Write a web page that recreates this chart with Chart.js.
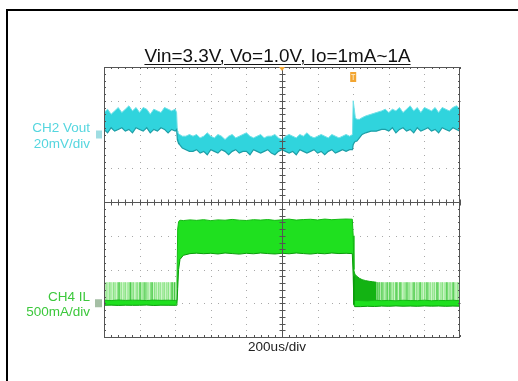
<!DOCTYPE html>
<html>
<head>
<meta charset="utf-8">
<script src="https://cdn.jsdelivr.net/npm/chart.js@4/dist/chart.umd.min.js"></script>
<style>
  html, body { margin: 0; padding: 0; background: #fff; overflow: hidden; }
  #wrap { position: relative; width: 518px; height: 381px; overflow: hidden; background: #fff;
          font-family: "Liberation Sans", Arial, sans-serif; }
  #scope { position: absolute; left: 0; top: 0; }
  .frame-top { position: absolute; left: 6px; top: 9px; width: 512px; height: 2px; background: #000; }
  .frame-left { position: absolute; left: 6px; top: 9px; width: 2px; height: 372px; background: #000; }
  #title { position: absolute; left: 0; width: 555px; text-align: center; top: 46.5px;
           font-size: 18.9px; line-height: 18.9px; color: #111;
           text-decoration: underline; text-decoration-thickness: 1px; text-underline-offset: 2px; }
  .lbl { position: absolute; right: 428px; text-align: right; font-size: 13.5px; white-space: nowrap; }
  .ch2 { top: 119.5px; line-height: 16px; color: #55d6df; }
  .ch4 { top: 289px; line-height: 15px; color: #3cc83c; }
  #xlab { position: absolute; left: 0; width: 554px; text-align: center; top: 339px;
          font-size: 13.5px; line-height: 16px; color: #222; }
</style>
</head>
<body>
<div id="wrap">
  <div class="frame-top"></div>
  <div class="frame-left"></div>
  <canvas id="scope" width="518" height="381"></canvas>
  <div id="title">Vin=3.3V, Vo=1.0V, Io=1mA~1A</div>
  <div class="lbl ch2">CH2 Vout<br>20mV/div</div>
  <div class="lbl ch4">CH4 IL<br>500mA/div</div>
  <div id="xlab">200us/div</div>
</div>
<script>
// Time base: 200us/div, 10 divisions
const timeMin = 0;
const timeMax = 2000;
const timeDiv = 200;

// CH2 Vout (mV, relative to channel marker), 20mV/div
const voutTime = [0, 20, 40, 60, 80, 100, 120, 140, 160, 180, 200, 220, 240, 260, 280, 300, 320, 340, 360, 380, 400, 408,
    412, 415, 425, 440, 460, 480,
    500, 520, 540, 560, 580, 600, 620, 640, 660, 680, 700, 720, 740, 760, 780, 800, 820, 840, 860, 880, 900, 920,
    940, 960, 980, 1000, 1020, 1040, 1060, 1080, 1100, 1120, 1140, 1160, 1180, 1200, 1220, 1240, 1260, 1280, 1300,
    1320, 1340, 1360, 1380, 1396,
    1400, 1405, 1412, 1420, 1435, 1450, 1470, 1500, 1530, 1560,
    1580, 1600, 1620, 1640, 1660, 1680, 1700, 1720, 1740, 1760, 1780, 1800, 1820, 1840, 1860, 1880, 1900, 1920,
    1940, 1960, 1980, 2000];
const voutTop = [13, 15, 12, 14, 16, 13, 15, 17, 14, 16, 13, 16, 15, 12, 15, 14, 13, 16, 15, 14, 15, 13,
    2, 1, 0, -1, -1, 0,
    -1, 0, -2, -1, 1, -1, -2, 0, -1, -3, -1, 0, -2, -1, 0, 1, -1, -2, -1, 0, -2, -1,
    -1, 0, -2, -3, -1, 0, -1, -2, 0, -1, 1, -1, -2, -1, 0, -1, -2, 0, -1,
    -2, -1, 0, -1, 0,
    20, 16, 10, 9, 9, 10, 11, 12, 13, 14,
    15, 13, 15, 14, 16, 13, 15, 17, 14, 16, 13, 16, 15, 14, 16, 13, 16, 15,
    14, 16, 17, 15];
const voutBottom = [3, 1, 4, 2, 3, 4, 2, 3, 1, 4, 3, 2, 4, 1, 3, 2, 4, 3, 1, 3, 2, 3,
    -3, -4, -6, -8, -9, -10,
    -10, -9, -11, -10, -12, -9, -10, -11, -9, -10, -12, -10, -9, -11, -10, -10, -12, -9, -10, -11, -10, -9,
    -11, -12, -10, -9, -10, -11, -10, -12, -9, -10, -11, -10, -9, -11, -10, -12, -10, -9, -11,
    -10, -9, -10, -9, -9,
    -6, -5, -4, -4, -2, 0, 1, 2, 2, 3,
    3, 2, 4, 1, 3, 4, 2, 3, 1, 4, 2, 3, 4, 2, 3, 1, 4, 3,
    2, 4, 3, 2];

// CH4 IL (mA), 500mA/div
const ilTime = [0, 40, 80, 120, 160, 200, 240, 280, 320, 360, 400, 405,
    410, 414, 419, 427, 446, 483,
    520, 560, 600, 640, 680, 720, 760, 800, 840, 880, 920, 960, 1000, 1040, 1080, 1120, 1160, 1200, 1240, 1280, 1320, 1360, 1395,
    1400, 1404, 1408,
    1440, 1480, 1520, 1560, 1600, 1640, 1680, 1720, 1760, 1800, 1840, 1880, 1920, 1960, 2000];
const ilTop = [45, 40, 48, 42, 46, 44, 40, 47, 43, 45, 41, 44,
    300, 1100, 1210, 1230, 1225, 1235,
    1228, 1238, 1224, 1235, 1230, 1242, 1231, 1226, 1238, 1232, 1240, 1228, 1236, 1246, 1232, 1240, 1244, 1234, 1247, 1238, 1244, 1248, 1245,
    1000, 500, 45,
    40, 35, 45, 38, 42, 36, 44, 40, 38, 45, 37, 42, 40, 44, 38];
const ilBottom = [-30, -28, -32, -29, -31, -30, -27, -33, -29, -30, -31, -30,
    0, 220, 500, 650, 710, 735,
    742, 734, 740, 730, 744, 736, 728, 740, 733, 744, 736, 730, 740, 733, 744, 736, 729, 740, 733, 744, 736, 740, 735,
    400, -20, -50,
    -50, -45, -48, -42, -45, -40, -44, -42, -45, -40, -43, -41, -45, -42, -44];

// light-load pulse area (persistence) and decaying region after unload
const paleTime = [0, 405, 406, 1525, 2000];
const paleTop = [311, 311, null, 311, 311];
const decayTime = [1403, 1410, 1420, 1435, 1450, 1470, 1490, 1510, 1530];
const decayTop = [480, 430, 400, 370, 350, 335, 325, 318, 311];
const pulseHeight = 311;
const paleSpikes = [5, 16, 30, 39, 53, 62, 77, 88, 97, 112, 120, 135, 143, 158, 166, 181, 189, 204, 214, 223, 238, 247, 261, 270,
    284, 293, 307, 316, 331, 339, 353, 362, 376, 385, 399,
    1536, 1548, 1557, 1571, 1580, 1594, 1603, 1617, 1626, 1640, 1649, 1663, 1672, 1686, 1695, 1709, 1718, 1732, 1741, 1755,
    1764, 1778, 1787, 1801, 1810, 1824, 1833, 1847, 1856, 1870, 1879, 1893, 1902, 1916, 1925, 1939, 1948, 1962, 1971, 1985, 1994];
const darkSpikes = [84, 150, 202, 230, 270, 382, 395,
    1534, 1545, 1562, 1590, 1607, 1641, 1663, 1702, 1742, 1775, 1815, 1871, 1927, 1961];

const triggerTime = 1400;

function toPoints(xs, ys) {
    return xs.map((x, i) => ({ x: x, y: ys[i] }));
}

function spikePoints(times, h) {
    return times.flatMap(t => [{ x: t, y: 0 }, { x: t, y: h }, { x: t, y: null }]);
}

// graticule: dotted grid behind traces, center cross + border on top
const graticule = {
    id: 'graticule',
    beforeDatasetsDraw(chart) {
        const { ctx, scales } = chart;
        const xs = scales.x, ys = scales.yV;
        ctx.save();
        ctx.fillStyle = '#a8a8a8';
        for (let d = 1; d < 10; d++) {
            if (d === 5) continue;
            const x = Math.round(xs.getPixelForValue(d * timeDiv));
            for (let m = 0; m <= 40; m++) {
                const y = Math.round(ys.getPixelForValue(-120 + m * 4));
                ctx.fillRect(x, y, 1, 1);
            }
        }
        for (let d = 1; d < 8; d++) {
            if (d === 6) continue;
            const y = Math.round(ys.getPixelForValue(-120 + d * 20));
            for (let m = 0; m <= 50; m++) {
                const x = Math.round(xs.getPixelForValue(m * timeDiv / 5));
                ctx.fillRect(x, y, 1, 1);
            }
        }
        ctx.restore();
    },
    afterDatasetsDraw(chart) {
        const { ctx, chartArea: a, scales } = chart;
        const xs = scales.x, ys = scales.yV;
        const cx = Math.round(xs.getPixelForValue(1000)) + 0.5;
        const cy = Math.round(ys.getPixelForValue(-40)) + 0.5;
        ctx.save();
        ctx.strokeStyle = '#555';
        ctx.lineWidth = 1;
        ctx.beginPath();
        ctx.moveTo(cx, a.top); ctx.lineTo(cx, a.bottom);
        ctx.moveTo(a.left, cy); ctx.lineTo(a.right, cy);
        for (let m = 0; m <= 50; m++) {
            const x = Math.round(xs.getPixelForValue(m * timeDiv / 5)) + 0.5;
            ctx.moveTo(x, cy - 3); ctx.lineTo(x, cy + 3);
            ctx.moveTo(x, a.top); ctx.lineTo(x, a.top + 2);
            ctx.moveTo(x, a.bottom); ctx.lineTo(x, a.bottom - 2);
        }
        for (let m = 0; m <= 40; m++) {
            const y = Math.round(ys.getPixelForValue(-120 + m * 4)) + 0.5;
            ctx.moveTo(cx - 3, y); ctx.lineTo(cx + 3, y);
            ctx.moveTo(a.left, y); ctx.lineTo(a.left + 2, y);
            ctx.moveTo(a.right, y); ctx.lineTo(a.right - 2, y);
        }
        ctx.stroke();
        ctx.strokeRect(a.left + 0.5, a.top + 0.5, a.right - a.left - 1, a.bottom - a.top);
        ctx.restore();
    },
    afterDraw(chart) {
        const { ctx, chartArea: a, scales } = chart;
        ctx.save();
        // channel reference markers
        const y2 = scales.yV.getPixelForValue(0);
        ctx.fillStyle = '#9fdde2';
        ctx.fillRect(a.left - 8, y2 - 4, 6, 8);
        const y4 = scales.yI.getPixelForValue(0);
        ctx.fillStyle = '#a5bfa5';
        ctx.fillRect(a.left - 9, y4 - 4, 7, 8);
        // trigger position at top centre
        const tc = scales.x.getPixelForValue(1000);
        ctx.fillStyle = '#f2a531';
        ctx.beginPath();
        ctx.moveTo(tc - 3, a.top); ctx.lineTo(tc + 3, a.top); ctx.lineTo(tc, a.top + 4);
        ctx.closePath(); ctx.fill();
        // trigger marker
        const tt = scales.x.getPixelForValue(triggerTime);
        ctx.fillRect(tt - 3, a.top + 5, 6, 10);
        ctx.fillStyle = '#fde3b8';
        ctx.fillRect(tt - 2, a.top + 7, 4, 1);
        ctx.fillRect(tt - 0.5, a.top + 7, 1, 6);
        ctx.restore();
    }
};

const ctx = document.getElementById('scope');
new Chart(ctx, {
    type: 'line',
    data: {
        datasets: [
            {   // pulse persistence band
                data: toPoints(paleTime, paleTop), yAxisID: 'yI', order: 10,
                borderWidth: 0, borderColor: 'transparent', backgroundColor: '#cdf5c8', fill: 'origin', spanGaps: false
            },
            {
                data: spikePoints(paleSpikes, pulseHeight), yAxisID: 'yI', order: 9,
                borderWidth: 1, borderColor: '#86e281', fill: false, spanGaps: false
            },
            {
                data: spikePoints(darkSpikes, pulseHeight), yAxisID: 'yI', order: 8,
                borderWidth: 1, borderColor: '#2fbf2f', fill: false, spanGaps: false
            },
            {   // decaying current after unload
                data: toPoints(decayTime, decayTop), yAxisID: 'yI', order: 7,
                borderWidth: 1, borderColor: '#0fa80f', backgroundColor: '#13b313', fill: 'origin'
            },
            {
                data: toPoints(ilTime, ilBottom), yAxisID: 'yI', order: 5,
                borderWidth: 1, borderColor: '#0b9a0b', fill: false
            },
            {
                data: toPoints(ilTime, ilTop), yAxisID: 'yI', order: 6,
                borderWidth: 1, borderColor: '#14b914', backgroundColor: '#1fe01f', fill: '-1'
            },
            {
                data: toPoints(voutTime, voutBottom), yAxisID: 'yV', order: 3,
                borderWidth: 1.2, borderColor: '#1d9ea6', fill: false
            },
            {
                data: toPoints(voutTime, voutTop), yAxisID: 'yV', order: 4,
                borderWidth: 1, borderColor: '#6fe0e7', backgroundColor: '#30d4dd', fill: '-1'
            }
        ]
    },
    options: {
        responsive: false,
        animation: false,
        layout: { padding: { left: 104, right: 58, top: 67, bottom: 44 } },
        elements: { point: { radius: 0 }, line: { tension: 0 } },
        plugins: { legend: { display: false }, tooltip: { enabled: false } },
        scales: {
            x: { type: 'linear', min: timeMin, max: timeMax, display: false },
            yV: { type: 'linear', min: -120, max: 40, display: false },
            yI: { type: 'linear', min: -500, max: 3500, display: false }
        }
    },
    plugins: [graticule]
});
</script>
</body>
</html>
